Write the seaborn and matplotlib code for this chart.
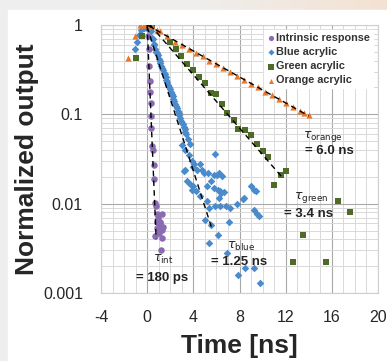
import numpy as np
import pandas as pd
import matplotlib
matplotlib.use("Agg")
import matplotlib.pyplot as plt
import seaborn as sns
from matplotlib.patches import Rectangle
from matplotlib.ticker import FixedLocator, NullFormatter
from matplotlib.colors import LinearSegmentedColormap

# ---------------- data ----------------
int_x = [0.0, 0.1, 0.2, 0.2, 0.26, 0.26, 0.32, 0.32, 0.35, 0.4, 0.5, 0.55, 0.55,
         0.7, 0.78, 0.84, 1.27, 0.98, 0.85, 1.13, 1.4, 0.85, 1.27, 1.0, 0.7, 1.27,
         1.0, 1.13, 1.2]
int_y = [0.93, 0.76, 0.54, 0.35, 0.237, 0.18, 0.135, 0.096, 0.07, 0.044, 0.04, 0.027, 0.019,
         0.0102, 0.0093, 0.0076, 0.0076, 0.0069, 0.0063, 0.006, 0.0055, 0.0053, 0.0051, 0.0047,
         0.0043, 0.0041, 0.0055, 0.0063, 0.003]

blue_x = [-1.04, -0.9, -0.7, -0.5, -0.3, -0.1, 0.0, 0.1, 0.2, 0.3,
          0.4, 0.55, 0.7, 0.85, 1.0, 1.15, 1.3, 1.45, 1.6, 1.75, 1.9, 2.05, 2.2, 2.35,
          2.5, 2.65, 2.8, 2.95, 3.1, 3.25, 3.4, 3.55, 3.7,
          0.47, 0.62, 0.77, 0.92, 1.07, 1.22, 1.37, 1.52, 1.67, 1.82, 1.97, 2.12, 2.27,
          2.42, 2.57, 2.72, 2.87, 3.02, 3.17, 3.32,
          3.0, 3.3, 3.6, 3.9, 4.1,
          5.9, 4.0, 4.3, 4.6, 4.75, 4.9, 3.2, 3.45, 3.74, 3.9, 4.2, 4.6, 5.2, 5.5,
          5.8, 6.2, 6.5, 5.8, 6.1, 6.35, 6.64, 6.2, 9.0, 9.4, 8.3, 5.2, 5.33, 5.9,
          6.35, 6.8, 7.2, 7.8, 9.25, 9.7, 7.07, 6.1, 5.33, 6.9, 7.85, 9.25, 9.8,
          3.3, 4.0, 5.3, 6.06, 6.4, 8.4, 9.25, 9.5, 5.04, 5.5, 8.5]
blue_y = [0.54, 0.65, 0.78, 0.88, 0.93, 0.96, 0.97, 0.96, 0.93, 0.86,
          0.72, 0.62, 0.54, 0.48, 0.42, 0.38, 0.33, 0.29, 0.26, 0.23, 0.2, 0.18, 0.16, 0.14,
          0.125, 0.11, 0.098, 0.085, 0.077, 0.068, 0.06, 0.053, 0.047,
          0.69, 0.6, 0.5, 0.46, 0.4, 0.35, 0.31, 0.28, 0.245, 0.215, 0.19, 0.17, 0.15,
          0.13, 0.118, 0.104, 0.09, 0.081, 0.072, 0.063,
          0.045, 0.04, 0.035, 0.03, 0.028,
          0.0356, 0.026, 0.024, 0.0275, 0.024, 0.022, 0.023, 0.0178, 0.0164, 0.0144, 0.0138,
          0.0122, 0.0157, 0.0178, 0.021, 0.022, 0.0205, 0.0151, 0.0144, 0.0138, 0.0134,
          0.0116, 0.0157, 0.0138, 0.0113, 0.0107, 0.0089, 0.0093, 0.0095, 0.0093, 0.0089,
          0.0098, 0.0086, 0.0072, 0.0063, 0.0045, 0.0036, 0.0028, 0.0016, 0.0019, 0.0013,
          0.024, 0.0157, 0.022, 0.021, 0.0132, 0.0116, 0.0144, 0.0076, 0.0066, 0.0058, 0.0019]

green_x = [-1.0, -0.45, 0.4, 2.0, 2.5, 2.9, 3.45, 4.0, 4.5, 5.0, 5.5, 6.0, 6.5, 6.9, 7.5,
           7.9, 8.5, 9.0, 9.5, 10.0, 10.5, 11.0, 11.6, 12.0, 12.6, 13.5, 15.5, 16.5, 17.6]
green_y = [0.43, 0.76, 1.0, 0.65, 0.54, 0.45, 0.365, 0.31, 0.26, 0.227, 0.175, 0.17, 0.13,
           0.104, 0.086, 0.068, 0.066, 0.058, 0.046, 0.039, 0.033, 0.016, 0.021, 0.023,
           0.0022, 0.0045, 0.0022, 0.0108, 0.0081]

orange_x = [-1.65, -1.04, -0.6, -0.3, 0.0, 0.4, 0.84, 1.13, 1.7, 2.43, 3.0, 3.6, 4.2,
            4.8, 5.4, 6.0, 6.6, 7.2, 7.8, 8.4, 9.0, 9.6, 10.2, 10.8, 11.4, 12.0, 12.6,
            13.2, 13.6, 14.0]
orange_y = [0.43, 0.76, 1.0, 1.0, 1.0, 0.97, 0.885, 0.85, 0.76, 0.64, 0.6, 0.54, 0.49,
            0.45, 0.4, 0.37, 0.33, 0.3, 0.27, 0.245, 0.22, 0.2, 0.18, 0.165, 0.15,
            0.135, 0.122, 0.11, 0.104, 0.098]

series_names = ["Intrinsic response", "Blue acrylic", "Green acrylic", "Orange acrylic"]

# fitted exponential lines (start/end points)
fit_x0 = [0.0, 0.0, 0.26, 0.0]
fit_x1 = [0.78, 5.6, 11.6, 14.0]
fit_y0 = [1.0, 0.95, 1.0, 1.0]
fit_y1 = [0.004, 0.0053, 0.0204, 0.096]

tau_sub = ["int", "blue", "green", "orange"]
tau_val = ["= 180 ps", "= 1.25 ns", "= 3.4 ns", "= 6.0 ns"]
tau_pos = [(1.42, 0.0024), (8.1, 0.0033), (14.2, 0.0116), (15.2, 0.057)]
val_pos = [(1.28, 0.00148), (8.0, 0.0022), (14.0, 0.0077), (15.8, 0.0384)]

x_ticks = [-4, 0, 4, 8, 12, 16, 20]
y_ticks = [0.001, 0.01, 0.1, 1]
y_tick_labels = ["0.001", "0.01", "0.1", "1"]

# ---------------- frame ----------------
frames = []
for name, xs, ys in zip(series_names, [int_x, blue_x, green_x, orange_x],
                        [int_y, blue_y, green_y, orange_y]):
    frames.append(pd.DataFrame({"t": xs, "v": ys, "series": name}))
df = pd.concat(frames, ignore_index=True)

sns.set_theme(style="white")
plt.rcParams["font.family"] = ["Liberation Sans", "DejaVu Sans"]

fig = plt.figure(figsize=(3.87, 3.61), dpi=100)
fig.patch.set_facecolor("#efefef")
# background: gradient top strip + white panel
bg = fig.add_axes([0, 0, 1, 1], zorder=-10)
grad = np.linspace(0, 1, 256)[None, :]
cmap_bg = LinearSegmentedColormap.from_list("bg", ["#efefef", "#efeeed", "#f4e2d2"])
bg.imshow(grad, aspect="auto", cmap=cmap_bg, extent=[0, 1, 0, 1])
bg.add_patch(Rectangle((8 / 387, 0), 1, (361 - 10) / 361, color="white", transform=bg.transAxes))
bg.set_xlim(0, 1); bg.set_ylim(0, 1)
bg.axis("off")

ax = fig.add_axes([101 / 387, 1 - 293 / 361, (378 - 101) / 387, (293 - 25) / 361])
ax.set_facecolor("white")

palette = {"Intrinsic response": "#8a6bb2", "Blue acrylic": "#4b8bcb",
           "Green acrylic": "#4e6b27", "Orange acrylic": "#e8782a"}
markers = {"Intrinsic response": "o", "Blue acrylic": "D",
           "Green acrylic": "s", "Orange acrylic": "^"}
sizes = {"Intrinsic response": 22, "Blue acrylic": 15, "Green acrylic": 24, "Orange acrylic": 20}

for name in series_names:
    sub = df[df.series == name]
    sns.scatterplot(data=sub, x="t", y="v", color=palette[name], marker=markers[name],
                    s=sizes[name], linewidth=0, ax=ax, label=name, zorder=3)

for x0, x1, y0, y1 in zip(fit_x0, fit_x1, fit_y0, fit_y1):
    ax.plot([x0, x1], [y0, y1], color="black", lw=1.0, ls=(0, (4, 3)), zorder=4)

ax.set_yscale("log")
ax.set_xlim(-4, 20)
ax.set_ylim(0.001, 1)
ax.set_xticks(x_ticks)
ax.set_xticklabels([str(t) for t in x_ticks], fontsize=11.5)
ax.set_yticks(y_ticks)
ax.set_yticklabels(y_tick_labels, fontsize=11.5)
ax.xaxis.set_minor_locator(FixedLocator(np.arange(-4, 21, 1)))
ax.yaxis.set_minor_locator(FixedLocator([m * 10.0 ** e for e in range(-3, 0) for m in range(2, 10)]))
ax.yaxis.set_minor_formatter(NullFormatter())
ax.tick_params(axis="x", which="both", length=0, pad=12)
ax.tick_params(axis="y", which="both", length=0, pad=13)
ax.grid(which="minor", color="#d9d9d9", lw=0.7)
ax.grid(which="major", color="#a8a8a8", lw=0.8)
ax.set_axisbelow(True)
for s in ax.spines.values():
    s.set_color("#cfcfcf")
    s.set_linewidth(0.8)

ax.set_xlabel("Time [ns]", fontsize=19, fontweight="bold", labelpad=7)
ax.set_ylabel("Normalized output", fontsize=19, fontweight="bold", labelpad=3)

for sub_, val, (tx, ty), (vx, vy) in zip(tau_sub, tau_val, tau_pos, val_pos):
    ax.text(tx, ty, r"$\tau_{\mathrm{" + sub_ + "}}$", fontsize=9, ha="center", va="center",
            color="#222222", zorder=5)
    ax.text(vx, vy, val, fontsize=9.5, fontweight="bold", ha="center", va="center",
            color="#222222", zorder=5)

leg = ax.legend(loc="upper right", frameon=True, fontsize=7.8, handletextpad=0.1,
                markerscale=0.8, labelspacing=0.38, borderpad=0.25, handlelength=0.8,
                bbox_to_anchor=(1.0, 1.0))
leg.get_frame().set_facecolor("white")
leg.get_frame().set_edgecolor("white")
leg.get_frame().set_alpha(1)
for t in leg.get_texts():
    t.set_fontweight("bold")
    t.set_color("#333333")

fig.savefig("out.png", dpi=100, facecolor=fig.get_facecolor())
